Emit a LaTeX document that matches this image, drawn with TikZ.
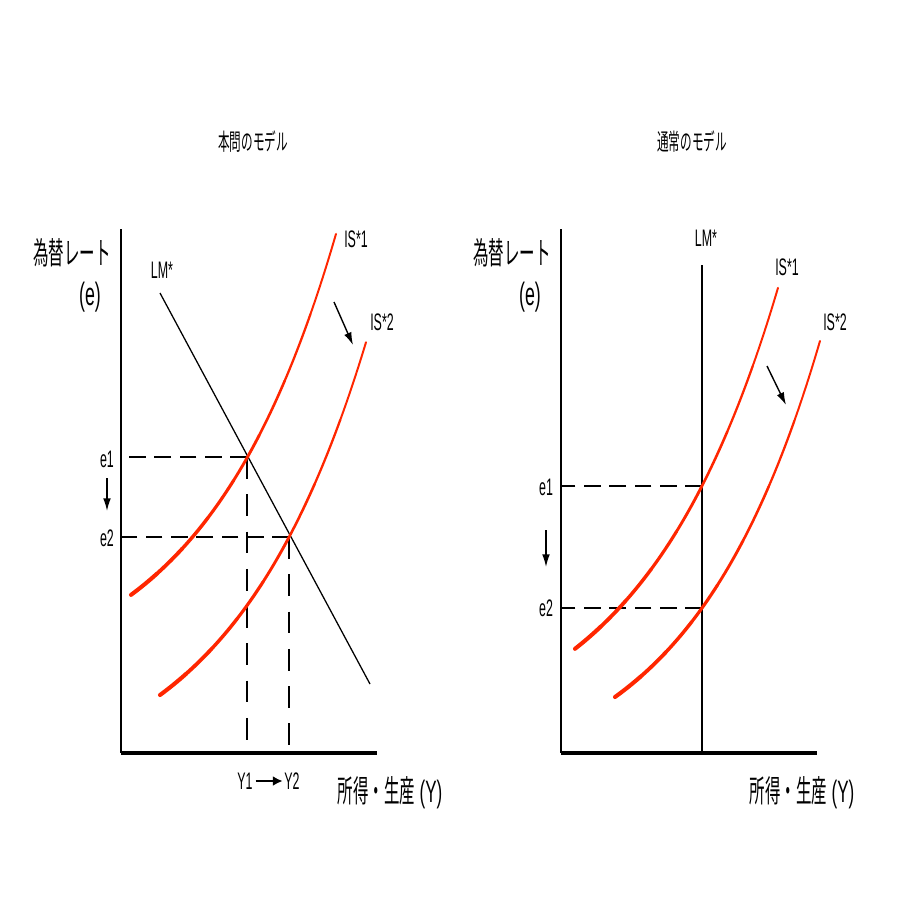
\documentclass[tikz,border=0pt]{standalone}
\usepackage{fontspec}
\newfontfamily\jp[FakeStretch=0.5]{Noto Sans CJK JP}
\newfontfamily\lt[FakeStretch=0.55]{Liberation Sans}
\newfontfamily\ltn[FakeStretch=0.52]{Liberation Sans}
\usetikzlibrary{arrows.meta}
\definecolor{isred}{RGB}{255,38,0}
\tikzset{
  axisv/.style={line width=1.5pt},
  axish/.style={line width=2.6pt},
  lmline/.style={line width=0.9pt},
  hdash/.style={line width=1.9pt, dash pattern=on 12pt off 6pt},
  vdash/.style={line width=0.8pt, dash pattern=on 15.5pt off 11pt},
  shiftarrow/.style={line width=1pt, -{Latex[length=9pt,width=5.5pt]}},
  yarrow/.style={line width=1.8pt, -{Latex[length=7pt,width=7pt]}},
  isline/.style={isred, line cap=round},
  biglabel/.style={font=\jp\fontsize{22}{24}\selectfont, inner sep=0pt},
  paren/.style={font=\lt\fontsize{23}{25}\selectfont, inner sep=0pt},
  title/.style={font=\jp\fontsize{16.5}{18}\selectfont, inner sep=0pt},
  small/.style={font=\ltn\fontsize{17}{19}\selectfont, inner sep=0pt},
  declare function={
    isA(\x)=753-(59.5+36.89*exp(0.0075*\x));
    isB(\x)=753-(-43+101*exp(0.0073*(\x-160)));
    isC(\x)=753-(-4.7+108.9*exp(0.0072*(\x-575)));
    isD(\x)=753-(-39+95*exp(0.0076*(\x-615)));
  }
}
\newcommand\taper[3]{%
  \foreach \i in {0,...,7}{%
    \pgfmathsetmacro\xa{#2+(#3-#2)*\i/8}%
    \pgfmathsetmacro\xb{#2+(#3-#2)*(\i+1)/8}%
    \pgfmathsetmacro\lw{2.9-1.5*\i/7}%
    \draw[isline, line width=\lw pt] plot[domain=\xa:\xb, samples=12, smooth] (\x,{#1(\x)});
  }%
}
\begin{document}
\begin{tikzpicture}[x=0.25mm, y=-0.25mm]
\useasboundingbox (0,0) rectangle (912,912);

% ---------------- left panel ----------------
\node[title] (t1) at (253,142) {本問のモデル};
\coordinate (O1) at (121,753);
\coordinate (T1) at (121,229);
\coordinate (X1) at (377,753);
\draw[axisv] (T1) -- (O1);
\draw[axish] (O1) -- (X1);

\node[biglabel] (yl1) at (72,253) {為替レート};
\node[paren] (ye1) at (90,297) {(e)};
\node[font=\lt\fontsize{22}{24}\selectfont, inner sep=0pt] (xl1) at (390,793) {{\jp 所得・生産} (Y)};

\coordinate (E1) at (247,457);
\coordinate (E2) at (289,537);
\coordinate (A1) at (121,457);
\coordinate (A2) at (121,537);
\coordinate (B1) at (247,753);
\coordinate (B2) at (289,753);

\draw[hdash] (E1) -- (A1);
\draw[hdash] (E2) -- (A2);
\draw[vdash] (E1) -- (B1);
\draw[vdash] (E2) -- (B2);

\coordinate (LMa) at (160,293);
\coordinate (LMb) at (370,684);
\draw[lmline] (LMa) -- (LMb);
\node[small] (lm1) at (162,270) {LM*};

\taper{isA}{131}{336}
\taper{isB}{160}{366}
\node[small] (is11) at (356,239) {IS*1};
\node[small] (is21) at (382,322) {IS*2};
\coordinate (s1a) at (334,302);
\coordinate (s1b) at (353,345);
\draw[shiftarrow] (s1a) -- (s1b);

\node[small] (e1l) at (107,459) {e1};
\node[small] (e2l) at (107,538) {e2};
\coordinate (d1a) at (107,478);
\coordinate (d1b) at (107,511);
\draw[shiftarrow] (d1a) -- (d1b);

\node[small] (y1) at (245,781) {Y1};
\node[small] (y2) at (292,781) {Y2};
\draw[yarrow] ([xshift=2pt]y1.east) -- ([xshift=-1pt]y2.west);

% ---------------- right panel ----------------
\node[title] (t2) at (692,142) {通常のモデル};
\coordinate (O2) at (561,753);
\coordinate (T2) at (561,229);
\coordinate (X2) at (817,753);
\draw[axisv] (T2) -- (O2);
\draw[axish] (O2) -- (X2);

\node[biglabel] (yl2) at (512,253) {為替レート};
\node[paren] (ye2) at (530,297) {(e)};
\node[font=\lt\fontsize{22}{24}\selectfont, inner sep=0pt] (xl2) at (802,793) {{\jp 所得・生産} (Y)};

\coordinate (LMt) at (702,265);
\coordinate (LMo) at (702,753);
\draw[lmline] (LMt) -- (LMo);
\node[small] (lm2) at (706,238) {LM*};

\coordinate (F1) at (702,486);
\coordinate (F2) at (702,608);
\coordinate (C1) at (561,486);
\coordinate (C2) at (561,608);
\draw[hdash] (F1) -- (C1);
\draw[hdash] (F2) -- (C2);

\taper{isC}{575}{778}
\taper{isD}{615}{820}
\node[small] (is12) at (787,267) {IS*1};
\node[small] (is22) at (835,322) {IS*2};
\coordinate (s2a) at (767,366);
\coordinate (s2b) at (786,405);
\draw[shiftarrow] (s2a) -- (s2b);

\node[small] (e1r) at (546,487) {e1};
\node[small] (e2r) at (546,608) {e2};
\coordinate (d2a) at (546,530);
\coordinate (d2b) at (546,567);
\draw[shiftarrow] (d2a) -- (d2b);
\end{tikzpicture}
\end{document}
